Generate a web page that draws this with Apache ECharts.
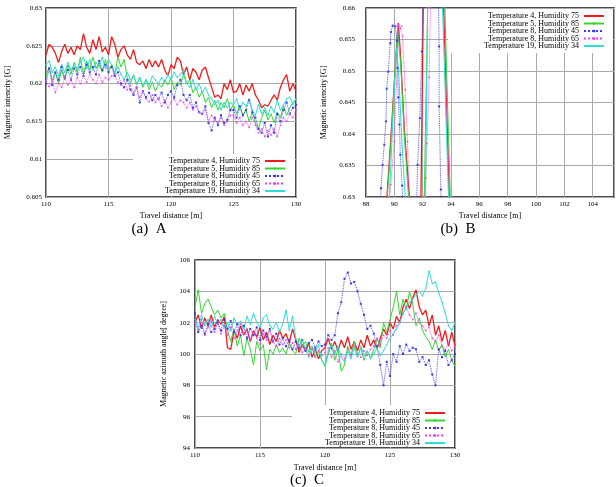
<!DOCTYPE html>
<html>
<head>
<meta charset="utf-8">
<script src="https://cdn.jsdelivr.net/npm/echarts@6/dist/echarts.min.js"></script>
<style>
  html, body { margin: 0; padding: 0; background: #fff; }
  #main { width: 616px; height: 487px; }
</style>
</head>
<body>
<div id="main"></div>
<script>
// legend names, same in all three panels
var names = ['Temperature 4, Humidity 75', 'Temperature 5, Humidity 85', 'Temperature 8, Humidity 45',
  'Temperature 8, Humidity 65', 'Temperature 19, Humidity 34'];

// panels A and C: one sample every 0.25 m from 110 to 130
var distStart = 110, distStep = 0.25;

// (a) magnetic intensity [G]
var redA = [0.6238,0.6252,0.6248,0.6240,0.6228,0.6242,0.6252,0.6240,0.6248,0.6238,
  0.6250,0.6245,0.6266,0.6248,0.6240,0.6258,0.6245,0.6262,0.6242,0.6248,
  0.6238,0.6262,0.6252,0.6235,0.6245,0.6250,0.6238,0.6232,0.6245,0.6228,
  0.6225,0.6230,0.6220,0.6232,0.6222,0.6230,0.6222,0.6232,0.6218,0.6210,
  0.6225,0.6220,0.6235,0.6230,0.6212,0.6222,0.6205,0.6220,0.6215,0.6205,
  0.6218,0.6222,0.6208,0.6195,0.6182,0.6185,0.6180,0.6200,0.6192,0.6205,
  0.6188,0.6190,0.6200,0.6185,0.6198,0.6190,0.6200,0.6185,0.6178,0.6168,
  0.6172,0.6170,0.6178,0.6185,0.6178,0.6195,0.6205,0.6212,0.6190,0.6200,
  0.6190];
var greenA = [0.6210,0.6222,0.6205,0.6215,0.6200,0.6218,0.6205,0.6225,0.6212,0.6228,
  0.6215,0.6235,0.6212,0.6230,0.6218,0.6235,0.6220,0.6228,0.6215,0.6232,
  0.6218,0.6225,0.6212,0.6235,0.6222,0.6232,0.6208,0.6200,0.6212,0.6198,
  0.6208,0.6195,0.6205,0.6192,0.6202,0.6190,0.6200,0.6195,0.6205,0.6198,
  0.6208,0.6192,0.6202,0.6198,0.6212,0.6200,0.6205,0.6188,0.6195,0.6182,
  0.6190,0.6175,0.6182,0.6168,0.6178,0.6165,0.6175,0.6168,0.6180,0.6165,
  0.6172,0.6160,0.6170,0.6158,0.6165,0.6150,0.6162,0.6148,0.6140,0.6155,
  0.6165,0.6152,0.6160,0.6148,0.6162,0.6155,0.6170,0.6158,0.6168,0.6175,
  0.6180];
var blueA = [0.6200,0.6220,0.6198,0.6215,0.6205,0.6222,0.6208,0.6218,0.6205,0.6220,
  0.6212,0.6222,0.6210,0.6225,0.6215,0.6222,0.6212,0.6230,0.6218,0.6225,
  0.6215,0.6222,0.6210,0.6215,0.6200,0.6195,0.6205,0.6192,0.6185,0.6195,
  0.6175,0.6190,0.6182,0.6188,0.6178,0.6185,0.6180,0.6188,0.6175,0.6185,
  0.6190,0.6182,0.6198,0.6205,0.6185,0.6178,0.6185,0.6168,0.6175,0.6162,
  0.6160,0.6170,0.6148,0.6138,0.6155,0.6145,0.6158,0.6148,0.6152,0.6165,
  0.6165,0.6155,0.6170,0.6158,0.6165,0.6178,0.6162,0.6155,0.6140,0.6135,
  0.6148,0.6130,0.6145,0.6135,0.6160,0.6150,0.6165,0.6175,0.6160,0.6168,
  0.6172];
var magentaA = [0.6202,0.6196,0.6205,0.6188,0.6200,0.6195,0.6208,0.6198,0.6205,0.6195,
  0.6208,0.6200,0.6210,0.6202,0.6212,0.6205,0.6200,0.6212,0.6202,0.6208,
  0.6205,0.6210,0.6212,0.6202,0.6198,0.6205,0.6192,0.6198,0.6188,0.6195,
  0.6182,0.6190,0.6180,0.6176,0.6185,0.6175,0.6180,0.6170,0.6178,0.6168,
  0.6175,0.6180,0.6172,0.6178,0.6175,0.6168,0.6175,0.6165,0.6170,0.6162,
  0.6160,0.6165,0.6150,0.6158,0.6152,0.6148,0.6155,0.6145,0.6150,0.6158,
  0.6158,0.6148,0.6155,0.6145,0.6150,0.6142,0.6155,0.6145,0.6135,0.6140,
  0.6130,0.6138,0.6132,0.6140,0.6130,0.6145,0.6155,0.6150,0.6160,0.6155,
  0.6165];
var cyanA = [0.6225,0.6230,0.6215,0.6222,0.6210,0.6225,0.6215,0.6228,0.6218,0.6225,
  0.6220,0.6228,0.6235,0.6220,0.6232,0.6218,0.6228,0.6222,0.6235,0.6220,
  0.6232,0.6225,0.6215,0.6222,0.6212,0.6205,0.6215,0.6205,0.6210,0.6200,
  0.6208,0.6198,0.6205,0.6198,0.6210,0.6205,0.6200,0.6208,0.6202,0.6212,
  0.6205,0.6215,0.6208,0.6212,0.6218,0.6200,0.6195,0.6205,0.6192,0.6200,
  0.6188,0.6195,0.6185,0.6180,0.6172,0.6178,0.6165,0.6175,0.6168,0.6175,
  0.6172,0.6180,0.6165,0.6175,0.6170,0.6180,0.6165,0.6158,0.6172,0.6160,
  0.6168,0.6158,0.6170,0.6162,0.6178,0.6165,0.6172,0.6180,0.6182,0.6172,
  0.6180];

// (b) magnetic intensity [G], pairs of [distance m, value]
var redB = [[89.3,0.625],[89.48,0.630],[89.8,0.641],[90.05,0.650],[90.28,0.6576],[90.45,0.652],
  [90.7,0.641],[91.06,0.630],[91.3,0.622],[91.7,0.622],[91.88,0.630],[92.04,0.660],[92.5,0.700],
  [93.1,0.700],[93.48,0.660],[93.88,0.630],[94.1,0.622]];
var greenB = [[89.3,0.625],[89.5,0.630],[89.8,0.640],[90.05,0.6505],[90.23,0.6568],[90.45,0.651],
  [90.7,0.640],[91.0,0.630],[91.3,0.622],[91.9,0.622],[92.11,0.630],[92.35,0.660],[92.7,0.700],
  [93.2,0.700],[93.56,0.660],[93.95,0.630],[94.2,0.622]];
var blueB = [[89.0,0.628],[89.06,0.6314],[89.17,0.6351],[89.29,0.6383],[89.41,0.6420],[89.46,0.6472],
  [89.57,0.6499],[89.71,0.6544],[89.76,0.6562],[89.88,0.6572],[90.07,0.6571],[90.18,0.6548],
  [90.22,0.6505],[90.28,0.6458],[90.36,0.6415],[90.42,0.6367],[90.55,0.6318],[90.62,0.626],
  [91.3,0.620],[91.55,0.627],[91.64,0.6351],[91.80,0.6425],[91.94,0.6531],[92.05,0.663],
  [92.5,0.700],[93.0,0.680],[93.16,0.6539],[93.16,0.6444],[93.28,0.6312],[93.35,0.625]];
var magentaB = [[89.5,0.626],[89.75,0.632],[89.99,0.6388],[90.15,0.648],[90.3,0.6574],[90.42,0.6568],
  [90.51,0.6571],[90.58,0.6555],[90.77,0.6470],[90.93,0.6388],[91.05,0.630],[91.3,0.624],
  [92.0,0.624],[92.22,0.6330],[92.3,0.6385],[92.45,0.6490],[92.55,0.660],[92.9,0.700],
  [93.45,0.700],[93.6,0.6526],[93.68,0.6430],[93.82,0.6360],[93.9,0.630],[94.1,0.624]];
var cyanB = [[89.45,0.625],[89.65,0.630],[89.85,0.640],[90.05,0.649],[90.16,0.6535],[90.3,0.650],
  [90.55,0.638],[90.77,0.630],[91.0,0.624],[92.0,0.624],[92.2,0.630],[92.35,0.660],[92.7,0.700],
  [93.1,0.700],[93.4,0.660],[93.82,0.630],[94.0,0.624]];

// (c) magnetic azimuth angle [degree]
var redC = [102.0,102.5,101.6,102.3,101.8,102.5,101.7,102.2,101.9,102.4,
  100.4,100.3,101.5,101.0,101.8,101.2,101.6,100.8,101.5,101.1,
  101.7,100.9,101.4,100.6,101.2,100.8,101.5,101.0,101.3,100.7,
  101.6,100.9,100.1,100.6,100.2,100.7,99.8,100.3,99.7,100.2,
  100.4,101.0,100.3,100.8,100.2,100.9,100.4,101.1,100.3,100.8,
  100.2,100.9,100.4,101.2,100.5,100.9,100.3,101.0,101.6,101.2,
  102.0,101.6,102.4,102.0,103.0,103.5,102.9,103.6,104.1,103.0,
  102.5,102.8,101.8,102.5,101.2,101.8,100.8,101.5,100.5,101.4,
  100.5];
var greenC = [103.0,104.1,102.6,103.2,103.5,103.0,102.5,102.8,102.3,102.6,
  101.5,100.8,101.6,100.5,101.2,99.9,101.0,100.3,99.3,100.8,
  100.2,100.6,99.0,100.3,100.0,100.6,100.1,100.4,100.0,100.7,
  100.2,100.0,101.0,100.5,100.8,100.1,100.5,99.8,100.2,99.6,
  99.2,100.0,100.7,99.6,100.3,98.9,99.3,100.5,99.9,100.8,
  99.8,100.4,99.6,100.2,99.7,100.3,101.0,100.4,102.0,101.4,
  102.2,103.0,104.0,102.5,103.5,102.8,104.0,103.2,101.8,102.3,
  101.5,101.1,100.8,100.3,100.9,100.2,100.6,99.8,100.3,99.6,
  99.2];
var blueC = [102.6,101.4,101.8,101.3,101.9,101.4,101.6,102.0,101.5,102.2,
  101.6,102.1,101.4,101.9,101.2,101.8,101.0,101.6,101.2,101.7,
  100.9,101.5,101.1,101.6,100.8,101.3,100.6,101.0,100.5,100.9,
  100.3,100.8,100.4,100.9,100.2,100.7,100.9,100.4,100.8,100.5,
  100.6,101.2,100.9,101.2,102.6,103.3,104.8,105.2,104.5,104.6,
  104.0,103.2,102.5,101.6,101.8,101.3,100.5,99.3,98.0,99.5,
  98.6,100.0,99.5,100.5,100.0,100.6,100.2,100.4,100.3,99.5,
  99.8,99.3,99.6,98.7,98.0,100.3,99.8,100.2,99.3,99.6,
  100.0];
var magentaC = [102.0,101.5,102.2,101.2,101.7,102.1,101.4,101.9,101.3,101.8,
  101.2,101.7,101.0,101.5,101.9,101.3,101.6,100.9,101.4,101.0,
  100.6,101.3,100.9,101.5,100.8,100.5,101.0,100.6,100.9,100.4,
  100.7,100.3,100.6,100.1,100.4,99.9,100.3,99.8,100.2,99.9,
  100.1,100.4,99.8,100.2,99.5,100.0,99.7,100.3,99.9,100.5,
  100.0,99.8,100.2,99.9,100.3,100.5,101.0,100.6,101.2,101.0,
  101.5,101.2,101.8,102.0,102.6,103.0,102.5,102.2,102.6,102.0,
  101.8,101.5,101.7,101.0,100.8,101.2,100.5,100.3,100.7,100.2,
  100.5];
var cyanC = [102.2,101.6,102.5,101.8,102.2,101.7,102.4,101.9,102.2,101.7,
  102.0,101.5,102.3,101.8,102.1,101.6,102.4,101.9,102.6,102.0,
  101.7,102.3,102.5,101.8,101.6,102.0,101.4,101.9,102.8,101.5,
  102.4,101.0,100.5,100.9,100.3,99.8,100.5,100.1,100.6,99.6,
  99.3,100.2,100.6,100.0,100.5,99.8,99.5,100.2,99.7,100.4,
  99.8,100.5,99.9,100.2,99.7,100.0,100.4,99.9,100.2,100.6,
  101.0,101.3,101.6,102.0,102.6,102.9,103.3,103.5,103.8,104.0,
  103.7,104.2,105.3,104.5,104.6,103.9,103.3,102.6,101.8,101.5,
  102.0];

var colors = ['#f01c1c', '#33d833', '#3a3af2', '#f040f0', '#30dcdc'];
var widths = [1.3, 1, 0.9, 0.9, 1];
var dashes = ['solid', 'solid', 'dotted', 'dotted', 'solid'];
var symbols = ['none', 'none', 'rect', 'rect', 'circle'];
var symSizes = [0, 0, 2, 1.5, 1.4];

var serif = 'Liberation Serif';

function withDist(vals) {
  return vals.map(function (v, i) { return [distStart + i * distStep, v]; });
}

function mkSeries(idx, grid, data) {
  return {
    name: names[idx], type: 'line', xAxisIndex: grid, yAxisIndex: grid, data: data,
    lineStyle: { color: colors[idx], width: widths[idx], type: dashes[idx] },
    itemStyle: { color: colors[idx] },
    symbol: symbols[idx], symbolSize: symSizes[idx],
    showSymbol: symbols[idx] !== 'none',
    emphasis: { disabled: true },
    clip: true
  };
}

var series = [];
[redA, greenA, blueA, magentaA, cyanA].forEach(function (d, i) { series.push(mkSeries(i, 0, withDist(d))); });
[redB, greenB, blueB, magentaB, cyanB].forEach(function (d, i) { series.push(mkSeries(i, 1, d)); });
[redC, greenC, blueC, magentaC, cyanC].forEach(function (d, i) { series.push(mkSeries(i, 2, withDist(d))); });

function xAx(grid, min, max, interval, nameGap) {
  return {
    type: 'value', gridIndex: grid, min: min, max: max, interval: interval,
    name: 'Travel distance [m]', nameLocation: 'middle', nameGap: nameGap,
    nameTextStyle: { fontFamily: serif, fontSize: 8, color: '#000' },
    axisLine: { show: false }, axisTick: { show: false },
    axisLabel: { fontFamily: serif, fontSize: 7, color: '#000', margin: 4, showMaxLabel: grid !== 1 },
    splitLine: { show: true, lineStyle: { color: '#aaa', width: 1 } }
  };
}
function yAx(grid, name, min, max, interval, nameGap, margin) {
  return {
    type: 'value', gridIndex: grid, min: min, max: max, interval: interval,
    name: name, nameLocation: 'middle', nameGap: nameGap, nameRotate: 90,
    nameTextStyle: { fontFamily: serif, fontSize: 8, color: '#000' },
    axisLine: { show: false }, axisTick: { show: false },
    axisLabel: { fontFamily: serif, fontSize: 7, color: '#000', margin: margin },
    splitLine: { show: true, lineStyle: { color: '#aaa', width: 1 } }
  };
}
function legendAt(pos, padding) {
  var l = {
    data: names, orient: 'vertical', align: 'right', selectedMode: false,
    itemWidth: 20, itemHeight: 3, itemGap: -0.5, padding: padding,
    backgroundColor: '#fff',
    textStyle: { fontFamily: serif, fontSize: 8, lineHeight: 8, color: '#000' }
  };
  for (var k in pos) l[k] = pos[k];
  return l;
}

var chart = echarts.init(document.getElementById('main'));
chart.setOption({
  animation: false,
  backgroundColor: '#fff',
  grid: [
    { left: 46, top: 8, width: 250, height: 189, show: true, borderColor: '#111', borderWidth: 1.5 },
    { left: 366, top: 8, width: 248, height: 189, show: true, borderColor: '#111', borderWidth: 1.5 },
    { left: 195, top: 260, width: 260, height: 188, show: true, borderColor: '#111', borderWidth: 1.5 }
  ],
  xAxis: [
    xAx(0, 110, 130, 5, 15),
    xAx(1, 88, 105.5, 2, 15),
    xAx(2, 110, 130, 5, 16)
  ],
  yAxis: [
    yAx(0, 'Magnetic intencity [G]', 0.605, 0.63, 0.005, 34, 4),
    yAx(1, 'Magnetic intencity [G]', 0.63, 0.66, 0.005, 38, 11),
    yAx(2, 'Magnetic azimuth angle[ degree]', 94, 106, 2, 27, 5)
  ],
  legend: [
    legendAt({ right: 321, bottom: 291 }, [3, 9, 1, 32]),
    legendAt({ right: 3, top: 9 }, [3, 8, 3, 36]),
    legendAt({ right: 162, bottom: 40 }, [4, 8, 0, 33])
  ],
  graphic: [
    { type: 'text', x: 149, y: 229, style: { text: '(a)  A', font: '15px "Liberation Serif"', fill: '#000', align: 'center', verticalAlign: 'middle' } },
    { type: 'text', x: 458, y: 229, style: { text: '(b)  B', font: '15px "Liberation Serif"', fill: '#000', align: 'center', verticalAlign: 'middle' } },
    { type: 'text', x: 307, y: 480, style: { text: '(c)  C', font: '15px "Liberation Serif"', fill: '#000', align: 'center', verticalAlign: 'middle' } }
  ],
  series: series
});
</script>
</body>
</html>
